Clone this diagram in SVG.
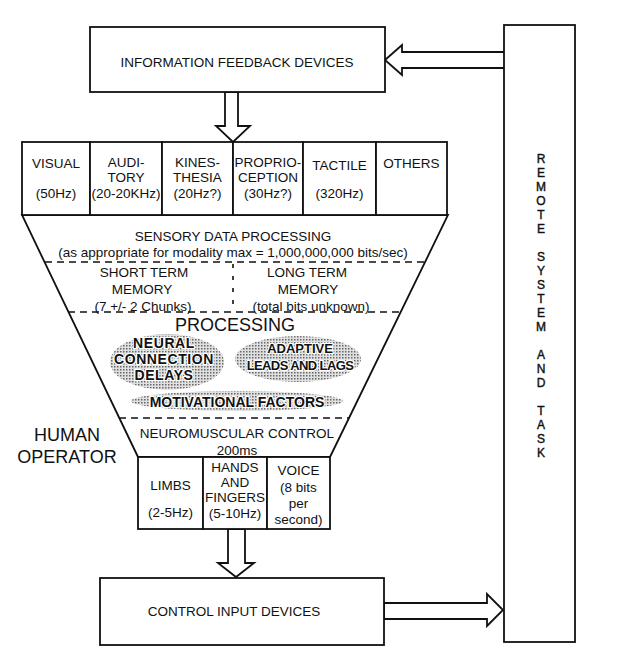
<svg xmlns="http://www.w3.org/2000/svg" width="631" height="662" viewBox="0 0 631 662">
<style>
text{font-family:"Liberation Sans",Arial,sans-serif;font-size:13.5px;fill:#111;text-anchor:middle}
.box{fill:#fff;stroke:#111;stroke-width:1.8}
.arr{fill:#fff;stroke:#111;stroke-width:1.8;stroke-linejoin:miter}
.dash{stroke:#111;stroke-width:1.6;stroke-dasharray:7 5;fill:none}
.big{font-size:18px}
.ell{fill:url(#stip)}
.et{font-weight:bold;font-size:14px;stroke:#fff;stroke-width:2.5;paint-order:stroke;stroke-linejoin:round}
.rl{font-size:12px;stroke:#111;stroke-width:0.4}
</style>
<defs>
<pattern id="stip" width="3" height="3" patternUnits="userSpaceOnUse">
<rect width="3" height="3" fill="#e0e0e0"/>
<rect width="1.5" height="1.5" fill="#666"/>
</pattern>
</defs>
<rect width="631" height="662" fill="#fff"/>

<g id="connectors">
<polygon class="arr" points="385,60 402,45 402,52 505,52 505,68 402,68 402,75"/>
<polygon class="arr" points="225,92 238,92 238,126 250,126 233,142 216,126 225,126"/>
<polygon class="arr" points="228,529 245,529 245,563 254,563 236,577 218,563 228,563"/>
<polygon class="arr" points="384,603 487,603 487,594 503,610 487,626 487,619 384,619"/>
</g>

<g id="info-feedback">
<rect class="box" x="90" y="27" width="295" height="65"/>
<text x="237" y="67">INFORMATION FEEDBACK DEVICES</text>
</g>

<g id="remote">
<rect class="box" x="504" y="25" width="71" height="617"/>
<text class="rl" x="541" y="163">R</text>
<text class="rl" x="541" y="177">E</text>
<text class="rl" x="541" y="191">M</text>
<text class="rl" x="541" y="205">O</text>
<text class="rl" x="541" y="219">T</text>
<text class="rl" x="541" y="233">E</text>
<text class="rl" x="541" y="261">S</text>
<text class="rl" x="541" y="275">Y</text>
<text class="rl" x="541" y="289">S</text>
<text class="rl" x="541" y="303">T</text>
<text class="rl" x="541" y="317">E</text>
<text class="rl" x="541" y="331">M</text>
<text class="rl" x="541" y="359">A</text>
<text class="rl" x="541" y="373">N</text>
<text class="rl" x="541" y="387">D</text>
<text class="rl" x="541" y="415">T</text>
<text class="rl" x="541" y="429">A</text>
<text class="rl" x="541" y="443">S</text>
<text class="rl" x="541" y="457">K</text>
</g>

<g id="human-operator">
<polygon class="box" points="22,215 448,215 330,457 138,457"/>
<text class="big" x="67" y="441">HUMAN</text>
<text class="big" x="67" y="463">OPERATOR</text>
</g>

<g id="visual">
<rect class="box" x="22" y="142" width="68" height="73"/>
<text x="56" y="168">VISUAL</text>
<text x="56" y="198">(50Hz)</text>
</g>
<g id="auditory">
<rect class="box" x="90" y="142" width="72" height="73"/>
<text x="126" y="167">AUDI-</text>
<text x="126" y="182">TORY</text>
<text x="126" y="198">(20-20KHz)</text>
</g>
<g id="kinesthesia">
<rect class="box" x="162" y="142" width="71" height="73"/>
<text x="197.5" y="167">KINES-</text>
<text x="197.5" y="182">THESIA</text>
<text x="197.5" y="198">(20Hz?)</text>
</g>
<g id="proprioception">
<rect class="box" x="233" y="142" width="70" height="73"/>
<text x="268" y="167">PROPRIO-</text>
<text x="268" y="182">CEPTION</text>
<text x="268" y="198">(30Hz?)</text>
</g>
<g id="tactile">
<rect class="box" x="303" y="142" width="73" height="73"/>
<text x="339.5" y="170">TACTILE</text>
<text x="339.5" y="198">(320Hz)</text>
</g>
<g id="others">
<rect class="box" x="376" y="142" width="71" height="73"/>
<text x="411.5" y="168">OTHERS</text>
</g>

<g id="sensory-processing">
<text x="233" y="241">SENSORY DATA PROCESSING</text>
<text x="233" y="257">(as appropriate for modality max = 1,000,000,000 bits/sec)</text>
<line class="dash" x1="45" y1="262" x2="425" y2="262"/>
</g>

<g id="short-term">
<text x="144" y="277">SHORT TERM</text>
<text x="142" y="294">MEMORY</text>
<text x="143" y="311">(7 +/- 2 Chunks)</text>
</g>
<g id="long-term">
<text x="307" y="277">LONG TERM</text>
<text x="308" y="294">MEMORY</text>
<text x="311" y="311">(total bits unknown)</text>
</g>
<line class="dash" x1="233" y1="264" x2="233" y2="310" style="stroke-dasharray:4 8"/>
<line class="dash" x1="68" y1="312" x2="401" y2="312"/>

<g id="processing">
<text class="big" x="235" y="331">PROCESSING</text>
</g>
<g id="neural">
<ellipse class="ell" cx="167" cy="362" rx="57" ry="28"/>
<text class="et" x="164" y="348" style="letter-spacing:0.6px">NEURAL</text>
<text class="et" x="164" y="364" style="letter-spacing:0.6px">CONNECTION</text>
<text class="et" x="164" y="380" style="letter-spacing:0.6px">DELAYS</text>
</g>
<g id="adaptive">
<ellipse class="ell" cx="298" cy="359" rx="63" ry="23"/>
<text class="et" x="300" y="353" style="font-size:13px">ADAPTIVE</text>
<text class="et" x="300" y="370" style="font-size:13px;letter-spacing:-0.6px">LEADS AND LAGS</text>
</g>
<g id="motivational">
<ellipse class="ell" cx="237" cy="401" rx="106" ry="10"/>
<text class="et" x="237" y="407">MOTIVATIONAL FACTORS</text>
</g>
<line class="dash" x1="119" y1="418" x2="349" y2="418"/>

<g id="neuromuscular">
<text x="237" y="438">NEUROMUSCULAR CONTROL</text>
<text x="237" y="455">200ms</text>
</g>

<g id="limbs">
<rect class="box" x="138" y="457" width="65" height="72"/>
<text x="170.5" y="490">LIMBS</text>
<text x="170.5" y="517">(2-5Hz)</text>
</g>
<g id="hands">
<rect class="box" x="203" y="457" width="64" height="72"/>
<text x="235" y="472">HANDS</text>
<text x="235" y="487">AND</text>
<text x="235" y="502">FINGERS</text>
<text x="235" y="518">(5-10Hz)</text>
</g>
<g id="voice">
<rect class="box" x="267" y="457" width="63" height="72"/>
<text x="298.5" y="475">VOICE</text>
<text x="298.5" y="492">(8 bits</text>
<text x="298.5" y="508">per</text>
<text x="298.5" y="524">second)</text>
</g>

<g id="control-input">
<rect class="box" x="100" y="578" width="284" height="67"/>
<text x="234" y="616">CONTROL INPUT DEVICES</text>
</g>
</svg>
